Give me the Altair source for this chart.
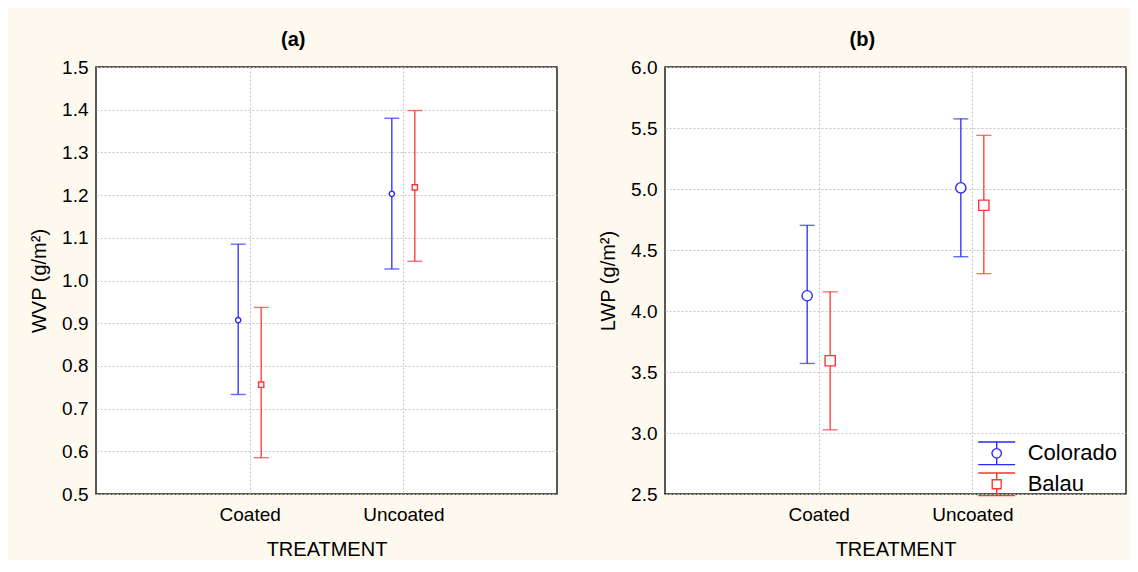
import altair as alt
import pandas as pd

# ---------------- data ----------------
TREATMENTS = ["Coated", "Uncoated"]
SERIES = ["Colorado", "Balau"]

wvp_colorado_mean = [0.907, 1.203]
wvp_colorado_low = [0.733, 1.027]
wvp_colorado_high = [1.085, 1.380]
wvp_balau_mean = [0.756, 1.218]
wvp_balau_low = [0.585, 1.045]
wvp_balau_high = [0.937, 1.398]

lwp_colorado_mean = [4.125, 5.010]
lwp_colorado_low = [3.570, 4.445]
lwp_colorado_high = [4.702, 5.575]
lwp_balau_mean = [3.592, 4.867]
lwp_balau_low = [3.026, 4.306]
lwp_balau_high = [4.157, 5.440]

WVP_TICKS = [0.5, 0.6, 0.7, 0.8, 0.9, 1.0, 1.1, 1.2, 1.3, 1.4, 1.5]
LWP_TICKS = [2.5, 3.0, 3.5, 4.0, 4.5, 5.0, 5.5, 6.0]

# ---------------- styles ----------------
COLORS = ["#2a2aff", "#ff3636"]
SHAPES = ["circle", "square"]
OFFSETS = [-11.5, 11.5]
CREAM = "#fdf9ef"
FONT = "Liberation Sans"

LEGEND_PATHS = [
    "M-1.32,-0.81H1.32M-1.32,0.81H1.32M0,-0.81V-0.336M0,0.336V0.81"
    "M0.336,0A0.336,0.336,0,1,1,-0.336,0A0.336,0.336,0,1,1,0.336,0",
    "M-1.32,-0.81H1.32M-1.32,0.81H1.32M0,-0.81V-0.32M0,0.32V0.81"
    "M-0.32,-0.32H0.32V0.32H-0.32Z",
]


def make_df(series_data):
    rows = []
    for s, (means, lows, highs) in zip(SERIES, series_data):
        for t, m, lo, hi in zip(TREATMENTS, means, lows, highs):
            rows.append({"treatment": t, "series": s, "mean": m, "low": lo, "high": hi})
    return pd.DataFrame(rows)


df_wvp = make_df([
    (wvp_colorado_mean, wvp_colorado_low, wvp_colorado_high),
    (wvp_balau_mean, wvp_balau_low, wvp_balau_high),
])
df_lwp = make_df([
    (lwp_colorado_mean, lwp_colorado_low, lwp_colorado_high),
    (lwp_balau_mean, lwp_balau_low, lwp_balau_high),
])

W, H = 461, 427


def panel(df, title, ytitle, ticks, msize, with_legend=False):
    x = alt.X(
        "treatment:N",
        scale=alt.Scale(type="point", domain=TREATMENTS, padding=1),
        axis=alt.Axis(title="TREATMENT", labelAngle=0, labelPadding=11,
                      titlePadding=15, grid=True),
    )
    yscale = alt.Scale(domain=[ticks[0], ticks[-1]], nice=False, zero=False)
    yaxis = alt.Axis(title=ytitle, values=ticks, format=".1f", labelPadding=8,
                     titlePadding=12, grid=True)

    def Y(field):
        return alt.Y(f"{field}:Q", scale=yscale, axis=yaxis, title=ytitle)

    layers = []
    for s, col, off, shp in zip(SERIES, COLORS, OFFSETS, SHAPES):
        b = alt.Chart(df).transform_filter(alt.datum.series == s)
        layers.append(
            b.mark_rule(color=col, strokeWidth=1.3, xOffset=off)
            .encode(x=x, y=Y("low"), y2="high:Q")
        )
        for fld in ("high", "low"):
            layers.append(
                b.mark_tick(color=col, thickness=1.4, size=15, xOffset=off,
                            orient="horizontal")
                .encode(x=x, y=Y(fld))
            )
        layers.append(
            b.mark_point(shape=shp, filled=True, fill="white", stroke=col,
                         strokeWidth=1.4, opacity=1, size=msize, xOffset=off)
            .encode(x=x, y=Y("mean"))
        )

    if with_legend:
        leg = alt.Legend(
            title=None, orient="none", legendX=316.7, legendY=371.3,
            padding=0, symbolSize=784, symbolStrokeWidth=1.4,
            symbolOpacity=1, labelFont=FONT, labelFontSize=22,
            labelColor="black", labelOffset=16, rowPadding=1,
        )
        layers.append(
            alt.Chart(df).mark_point(opacity=0, filled=False).encode(
                x=x, y=Y("mean"),
                color=alt.Color("series:N",
                                scale=alt.Scale(domain=SERIES, range=COLORS),
                                legend=leg),
                shape=alt.Shape("series:N",
                                scale=alt.Scale(domain=SERIES, range=LEGEND_PATHS),
                                legend=leg),
            )
        )

    return alt.layer(*layers).properties(
        width=W, height=H,
        title=alt.TitleParams(title, fontSize=20, fontWeight="bold", font=FONT,
                              anchor="middle", frame="bounds", offset=8,
                              color="black"),
    )


a = panel(df_wvp, "(a)", "WVP (g/m²)", WVP_TICKS, 28)
b = panel(df_lwp, "(b)", "LWP (g/m²)", LWP_TICKS, 105, with_legend=True)

chart = (
    alt.hconcat(a, b, spacing=39)
    .resolve_scale(x="independent", y="independent", color="independent",
                   shape="independent")
    .resolve_legend(color="independent", shape="independent")
    .properties(background=CREAM,
                padding={"top": 21, "left": 20, "right": 3, "bottom": 0})
    .configure_view(stroke="#222222", strokeWidth=1.5, fill="white")
    .configure_axis(
        labelFont=FONT, labelFontSize=19, labelColor="black",
        titleFont=FONT, titleFontSize=20, titleFontWeight="normal",
        titleColor="black", domain=False, ticks=False,
        gridColor="#c4c4c4", gridDash=[2, 2], gridWidth=1,
    )
)

chart.save("out.html", embed_options={"renderer": "svg", "actions": False})
